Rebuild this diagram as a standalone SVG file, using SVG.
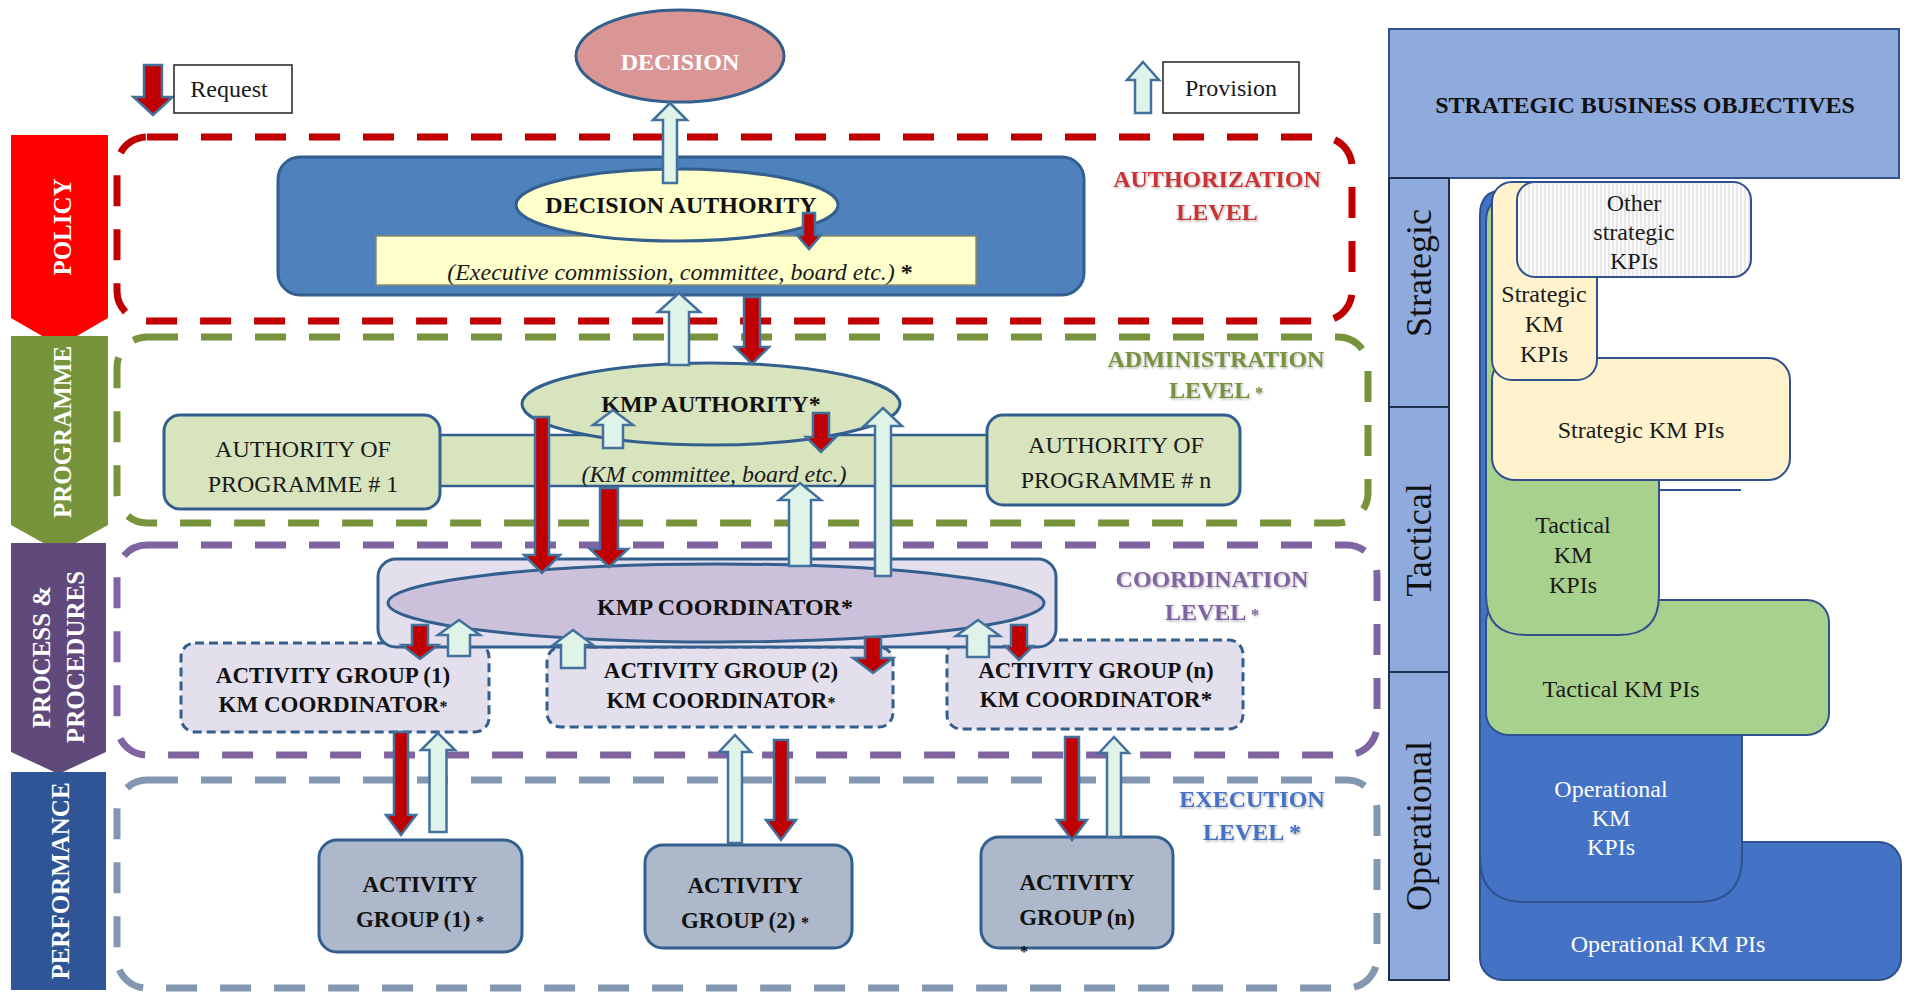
<svg xmlns="http://www.w3.org/2000/svg" width="1907" height="992" viewBox="0 0 1907 992">
  <defs>
    <style>
      text { font-family: "Liberation Serif", "Times New Roman", serif; }
      .frame { fill: none; stroke-width: 7; stroke-dasharray: 31 23; }
      .req { fill: #c00000; stroke: #41719c; stroke-width: 2.5; stroke-linejoin: miter; }
      .prov { fill: #e0f3e8; stroke: #41719c; stroke-width: 2.5; stroke-linejoin: miter; }
      .node { stroke: #335f8f; stroke-width: 3; }
      .dnode { fill: #e4dfec; stroke: #335f8f; stroke-width: 3; stroke-dasharray: 9 5; }
      .b24 { font-size: 24px; font-weight: bold; text-anchor: middle; fill: #111; }
      .b23 { font-size: 23px; font-weight: bold; text-anchor: middle; fill: #111; }
      .r24 { font-size: 24px; text-anchor: middle; fill: #1a1a1a; }
      .i24 { font-size: 24px; font-style: italic; text-anchor: middle; fill: #1a1a1a; }
      .lvl { font-size: 24px; font-weight: bold; text-anchor: middle; filter: url(#glow); }
      .band { font-size: 25px; font-weight: bold; fill: #fff; text-anchor: middle; }
      .tier { font-size: 36px; fill: #111; text-anchor: middle; }
      .kpi { font-size: 24px; fill: #1a1a1a; text-anchor: middle; }
      .kpiw { font-size: 24px; fill: #fff; text-anchor: middle; }
      .small { font-size: 16px; }
    </style>
    <filter id="glow" x="-10%" y="-30%" width="120%" height="160%">
      <feDropShadow dx="1" dy="1.5" stdDeviation="1.2" flood-color="#777" flood-opacity="0.55"/>
    </filter>
    <pattern id="hatch" width="4" height="10" patternUnits="userSpaceOnUse">
      <rect width="4" height="10" fill="#fbfbfb"/>
      <line x1="1" y1="0" x2="1" y2="10" stroke="#d6d6d6" stroke-width="1"/>
    </pattern>
  </defs>

  <rect width="1907" height="992" fill="#ffffff"/>

  <!-- level side bands -->
  <g id="band-policy">
    <polygon points="11,135 108,135 108,318 59.5,346 11,318" fill="#ff0000"/>
    <text class="band" transform="translate(71,227) rotate(-90)">POLICY</text>
  </g>
  <g id="band-programme">
    <polygon points="11,336 108,336 108,525 59.5,552 11,525" fill="#77933c"/>
    <text class="band" transform="translate(71,432) rotate(-90)">PROGRAMME</text>
  </g>
  <g id="band-process">
    <polygon points="11,543 106,543 106,752 58.5,774 11,752" fill="#604a7b"/>
    <text class="band" transform="translate(50,657) rotate(-90)">PROCESS &amp;</text>
    <text class="band" transform="translate(84,657) rotate(-90)">PROCEDURES</text>
  </g>
  <g id="band-performance">
    <rect x="11" y="772" width="95" height="218" fill="#2f5597"/>
    <text class="band" transform="translate(69,881) rotate(-90)">PERFORMANCE</text>
  </g>

  <!-- dashed level frames -->
  <g id="frames">
    <rect class="frame" x="117" y="137" width="1235" height="184" rx="30" stroke="#c00000"/>
    <rect class="frame" x="117" y="337" width="1251" height="186" rx="30" stroke="#77933c" stroke-width="6"/>
    <rect class="frame" x="117" y="545" width="1260" height="210" rx="30" stroke="#8064a2" stroke-width="6"/>
    <rect class="frame" x="117" y="780" width="1260" height="208" rx="30" stroke="#8497b0" stroke-width="6"/>
  </g>

  <!-- level labels -->
  <g id="level-labels">
    <text class="lvl" fill="#cc3333" x="1217" y="187">AUTHORIZATION</text>
    <text class="lvl" fill="#cc3333" x="1217" y="220">LEVEL</text>
    <text class="lvl" fill="#77933c" x="1216" y="367">ADMINISTRATION</text>
    <text class="lvl" fill="#77933c" x="1216" y="398">LEVEL <tspan class="small">*</tspan></text>
    <text class="lvl" fill="#8064a2" x="1212" y="587">COORDINATION</text>
    <text class="lvl" fill="#8064a2" x="1212" y="620">LEVEL <tspan class="small">*</tspan></text>
    <text class="lvl" fill="#4472c4" x="1252" y="807">EXECUTION</text>
    <text class="lvl" fill="#4472c4" x="1252" y="840">LEVEL *</text>
  </g>

  <!-- legend -->
  <g id="legend-request">
    <polygon class="req" points="144,65 162,65 162,97 172.5,97 153,115 133.5,97 144,97"/>
    <rect x="174" y="65" width="118" height="48" fill="#fff" stroke="#222" stroke-width="1.5"/>
    <text class="r24" x="229" y="97">Request</text>
  </g>
  <g id="legend-provision">
    <polygon class="prov" points="1143,62 1159,80 1151,80 1151,113 1135,113 1135,80 1127,80"/>
    <rect x="1163" y="62" width="136" height="51" fill="#fff" stroke="#222" stroke-width="1.5"/>
    <text class="r24" x="1231" y="96">Provision</text>
  </g>

  <!-- authorization level -->
  <g id="decision">
    <ellipse class="node" cx="680" cy="56" rx="104" ry="46" fill="#d99694"/>
    <text class="b24" x="680" y="70" style="fill:#fff">DECISION</text>
  </g>
  <g id="decision-authority">
    <rect class="node" x="278" y="157" width="806" height="138" rx="22" fill="#4f81bd"/>
    <rect x="376" y="236" width="600" height="49" fill="#ffffcc" stroke="#8c8c6a" stroke-width="1.5"/>
    <ellipse class="node" cx="677" cy="205" rx="161" ry="36" fill="#ffffcc"/>
    <text class="b24" x="681" y="213">DECISION AUTHORITY</text>
    <text class="i24" x="680" y="280">(Executive commission, committee, board etc.) <tspan font-style="normal" font-weight="bold">*</tspan></text>
  </g>

  <!-- administration level -->
  <g id="programme-band">
    <rect x="430" y="435" width="567" height="51" fill="#d7e4bd" stroke="#335f8f" stroke-width="2.5"/>
  </g>
  <g id="authority-programme-1">
    <rect class="node" x="164" y="415" width="276" height="94" rx="16" fill="#d7e4bd"/>
    <text class="r24" x="303" y="457">AUTHORITY OF</text>
    <text class="r24" x="303" y="492">PROGRAMME # 1</text>
  </g>
  <g id="authority-programme-n">
    <rect class="node" x="987" y="415" width="253" height="90" rx="16" fill="#d7e4bd"/>
    <text class="r24" x="1116" y="453">AUTHORITY OF</text>
    <text class="r24" x="1116" y="488">PROGRAMME # n</text>
  </g>
  <g id="kmp-authority">
    <ellipse class="node" cx="711" cy="404" rx="189" ry="41" fill="#d7e4bd"/>
    <text class="b24" x="711" y="412">KMP AUTHORITY*</text>
    <text class="i24" x="714" y="482">(KM committee, board etc.)</text>
  </g>

  <!-- coordination level -->
  <g id="ag1-coordinator">
    <rect class="dnode" x="181" y="643" width="308" height="89" rx="14"/>
    <text class="b23" x="333" y="683">ACTIVITY GROUP (1)</text>
    <text class="b23" x="333" y="712">KM COORDINATOR<tspan class="small">*</tspan></text>
  </g>
  <g id="ag2-coordinator">
    <rect class="dnode" x="547" y="647" width="346" height="80" rx="14"/>
    <text class="b23" x="721" y="678">ACTIVITY GROUP (2)</text>
    <text class="b23" x="721" y="708">KM COORDINATOR<tspan class="small">*</tspan></text>
  </g>
  <g id="agn-coordinator">
    <rect class="dnode" x="947" y="640" width="296" height="89" rx="14"/>
    <text class="b23" x="1096" y="678">ACTIVITY GROUP (n)</text>
    <text class="b23" x="1096" y="707">KM COORDINATOR*</text>
  </g>
  <g id="kmp-coordinator">
    <rect class="node" x="378" y="559" width="678" height="88" rx="18" fill="#e4dfec"/>
    <ellipse class="node" cx="716" cy="603" rx="328" ry="39" fill="#ccc1da"/>
    <text class="b24" x="725" y="615">KMP COORDINATOR*</text>
  </g>

  <!-- execution level -->
  <g id="activity-group-1">
    <rect class="node" x="319" y="840" width="203" height="112" rx="18" fill="#adb9ca" stroke-width="2.5"/>
    <text class="b23" x="420" y="892">ACTIVITY</text>
    <text class="b23" x="420" y="927">GROUP (1) <tspan class="small">*</tspan></text>
  </g>
  <g id="activity-group-2">
    <rect class="node" x="645" y="845" width="207" height="103" rx="18" fill="#adb9ca" stroke-width="2.5"/>
    <text class="b23" x="745" y="893">ACTIVITY</text>
    <text class="b23" x="745" y="928">GROUP (2) <tspan class="small">*</tspan></text>
  </g>
  <g id="activity-group-n">
    <rect class="node" x="981" y="837" width="192" height="111" rx="18" fill="#adb9ca" stroke-width="2.5"/>
    <text class="b23" x="1077" y="890">ACTIVITY</text>
    <text class="b23" x="1077" y="925">GROUP (n)</text>
    <text class="b23 small" x="1024" y="957">*</text>
  </g>

  <!-- request / provision arrows -->
  <g id="connectors">
    <polygon class="prov" points="670,103 687,120 677,120 677,183 663,183 663,120 653,120"/>
    <polygon class="req" points="803,213 815,213 815,235 821,235 809,249 797,235 803,235"/>
    <polygon class="prov" points="679,293 700,312 689,312 689,365 669,365 669,312 658,312"/>
    <polygon class="req" points="744,297 760,297 760,347 769,347 752,364 735,347 744,347"/>
    <polygon class="req" points="535,417 549,417 549,555 560,555 542,573 524,555 535,555"/>
    <polygon class="prov" points="613,410 633,425 623,425 623,448 603,448 603,425 593,425"/>
    <polygon class="req" points="600,488 618,488 618,549 628,549 609,567 590,549 600,549"/>
    <polygon class="req" points="813,413 829,413 829,437 836,437 821,452 806,437 813,437"/>
    <polygon class="prov" points="800,483 821,500 811,500 811,566 789,566 789,500 779,500"/>
    <polygon class="prov" points="883,408 902,426 891,426 891,576 875,576 875,426 864,426"/>
    <polygon class="req" points="412,625 428,625 428,645 438,645 420,659 402,645 412,645"/>
    <polygon class="prov" points="459,620 480,635 470,635 470,656 448,656 448,635 438,635"/>
    <polygon class="prov" points="573,630 593,645 585,645 585,668 561,668 561,645 553,645"/>
    <polygon class="req" points="865,637 881,637 881,658 893,658 873,673 853,658 865,658"/>
    <polygon class="prov" points="978,620 1000,636 989,636 989,657 967,657 967,636 956,636"/>
    <polygon class="req" points="1011,625 1027,625 1027,646 1033,646 1019,660 1005,646 1011,646"/>
    <polygon class="req" points="394,732 408,732 408,815 416,815 401,835 386,815 394,815"/>
    <polygon class="prov" points="438,733 455,750 446.5,750 446.5,832 429.5,832 429.5,750 421,750"/>
    <polygon class="prov" points="735,735 751,752 742,752 742,843 728,843 728,752 719,752"/>
    <polygon class="req" points="774,740 788,740 788,820 796,820 781,840 766,820 774,820"/>
    <polygon class="req" points="1065,737 1079,737 1079,820 1087,820 1072,840 1057,820 1065,820"/>
    <polygon class="prov" points="1114,737 1129,753 1121,753 1121,837 1107,837 1107,753 1099,753"/>
  </g>

  <!-- KPI hierarchy panel -->
  <g id="strategic-business-objectives">
    <rect x="1389" y="29" width="510" height="149" fill="#8faadc" stroke="#2f528f" stroke-width="2"/>
    <text class="b24" x="1645" y="113">STRATEGIC BUSINESS OBJECTIVES</text>
  </g>
  <g id="tier-column">
    <rect x="1389" y="178" width="60" height="229" fill="#8faadc" stroke="#1f2f4f" stroke-width="2"/>
    <rect x="1389" y="407" width="60" height="265" fill="#8faadc" stroke="#1f2f4f" stroke-width="2"/>
    <rect x="1389" y="672" width="60" height="308" fill="#8faadc" stroke="#1f2f4f" stroke-width="2"/>
    <text class="tier" transform="translate(1431,273) rotate(-90)">Strategic</text>
    <text class="tier" transform="translate(1431,540) rotate(-90)">Tactical</text>
    <text class="tier" transform="translate(1431,826) rotate(-90)">Operational</text>
  </g>
  <g id="operational-km-pis">
    <rect x="1480" y="842" width="421" height="138" rx="22" fill="#4472c4" stroke="#2f528f" stroke-width="2"/>
    <text class="kpiw" x="1668" y="952">Operational KM PIs</text>
  </g>
  <g id="operational-km-kpis">
    <path d="M1480,215 Q1480,190 1505,190 L1512,190 L1512,600 L1742,600 L1742,857 Q1742,902 1697,902 L1525,902 Q1480,902 1480,857 Z" fill="#4472c4" stroke="#2f528f" stroke-width="2"/>
    <text class="kpiw" x="1611" y="797">Operational</text>
    <text class="kpiw" x="1611" y="826">KM</text>
    <text class="kpiw" x="1611" y="855">KPIs</text>
  </g>
  <g id="tactical-km-pis">
    <rect x="1486" y="600" width="343" height="135" rx="22" fill="#a9d18e" stroke="#2f528f" stroke-width="2"/>
    <text class="kpi" x="1621" y="697">Tactical KM PIs</text>
  </g>
  <g id="tactical-km-kpis">
    <path d="M1486,222 Q1486,197 1511,197 L1518,197 L1518,360 L1659,360 L1659,595 Q1659,635 1619,635 L1526,635 Q1486,635 1486,595 Z" fill="#a9d18e" stroke="#2f528f" stroke-width="2"/>
    <line x1="1659" y1="490" x2="1741" y2="490" stroke="#2f528f" stroke-width="2"/>
    <text class="kpi" x="1573" y="533">Tactical</text>
    <text class="kpi" x="1573" y="563">KM</text>
    <text class="kpi" x="1573" y="593">KPIs</text>
  </g>
  <g id="strategic-km-pis">
    <rect x="1492" y="358" width="298" height="122" rx="22" fill="#fff2cc" stroke="#2f528f" stroke-width="2"/>
    <text class="kpi" x="1641" y="438">Strategic KM PIs</text>
  </g>
  <g id="strategic-km-kpis">
    <rect x="1492" y="182" width="105" height="198" rx="20" fill="#fff2cc" stroke="#2f528f" stroke-width="2"/>
    <text class="kpi" x="1544" y="302">Strategic</text>
    <text class="kpi" x="1544" y="332">KM</text>
    <text class="kpi" x="1544" y="362">KPIs</text>
  </g>
  <g id="other-strategic-kpis">
    <rect x="1517" y="182" width="234" height="95" rx="18" fill="url(#hatch)" stroke="#2f528f" stroke-width="2"/>
    <text class="kpi" x="1634" y="211">Other</text>
    <text class="kpi" x="1634" y="240">strategic</text>
    <text class="kpi" x="1634" y="269">KPIs</text>
  </g>
</svg>
